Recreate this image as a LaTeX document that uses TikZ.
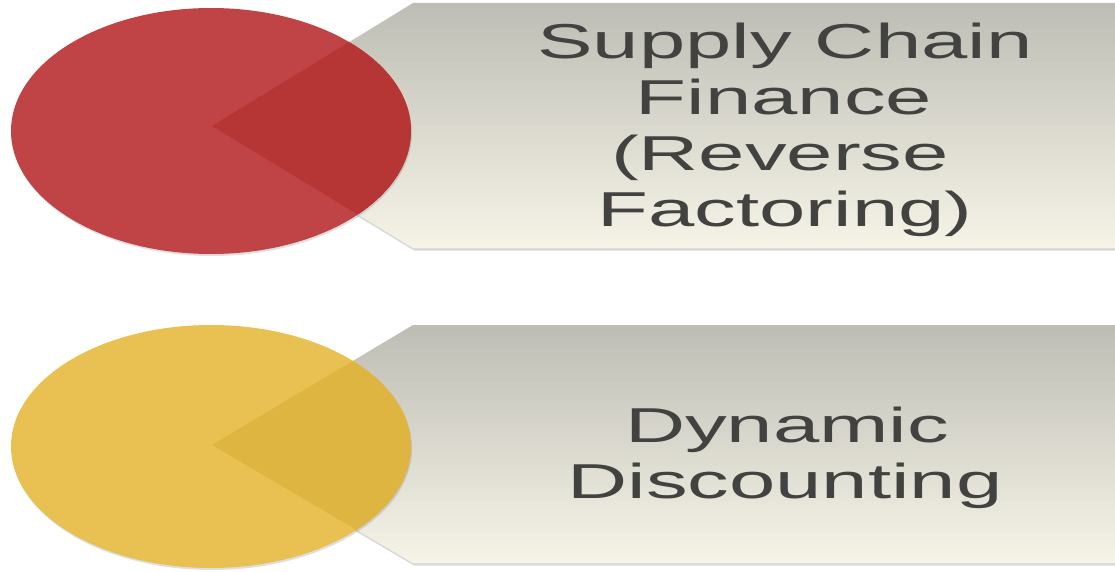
\documentclass[tikz,border=0pt]{standalone}
\usepackage{fontspec}
\setmainfont{Liberation Sans}
\usetikzlibrary{shadows}
\definecolor{redc}{RGB}{192,67,70}
\definecolor{redd}{RGB}{182,54,54}
\definecolor{yelc}{RGB}{232,193,82}
\definecolor{yeld}{RGB}{221,181,64}
\definecolor{graytop}{RGB}{190,189,181}
\definecolor{graybot}{RGB}{246,244,231}
\definecolor{txt}{RGB}{66,67,65}
\tikzset{
  arrowbox/.style={top color=graytop, bottom color=graybot, draw=none,
    drop shadow={shadow xshift=1pt, shadow yshift=-2.5pt, opacity=0.3}},
  disc/.style={draw=none,
    drop shadow={shadow xshift=1pt, shadow yshift=-2pt, opacity=0.25}},
  lbl/.style={text=txt, anchor=base, inner sep=0pt, xscale=1.7,
    font=\fontsize{49}{56}\selectfont}
}
\begin{document}
\begin{tikzpicture}[x=1pt,y=-1pt]
\useasboundingbox (0,0) rectangle (1115,572);
\begin{scope}
\clip (0,0) rectangle (1115,572);
% row 1
\path[arrowbox] (1125,3) -- (413,3) -- (212,126) -- (413,248) -- (1125,248) -- cycle;
\fill[redc, disc] (211,131) ellipse [x radius=200, y radius=123];
\begin{scope}
\clip (1125,3) -- (413,3) -- (212,126) -- (413,248) -- (1125,248) -- cycle;
\fill[redd] (211,131) ellipse [x radius=200, y radius=123];
\end{scope}
% row 2
\path[arrowbox] (1125,325) -- (413,325) -- (212,445) -- (413,563) -- (1125,563) -- cycle;
\fill[yelc, disc] (211,446.5) ellipse [x radius=200, y radius=121.5];
\begin{scope}
\clip (1125,325) -- (413,325) -- (212,445) -- (413,563) -- (1125,563) -- cycle;
\fill[yeld] (211,446.5) ellipse [x radius=200, y radius=121.5];
\end{scope}
\end{scope}
% labels
\node[lbl] (l1) at (785,59) {Supply Chain};
\node[lbl] (l2) at (784,115) {Finance};
\node[lbl] (l3) at (780,171) {(Reverse};
\node[lbl] (l4) at (785,226) {Factoring)};
\node[lbl] (l5) at (787,442) {Dynamic};
\node[lbl] (l6) at (785,498) {Discounting};
\end{tikzpicture}
\end{document}
